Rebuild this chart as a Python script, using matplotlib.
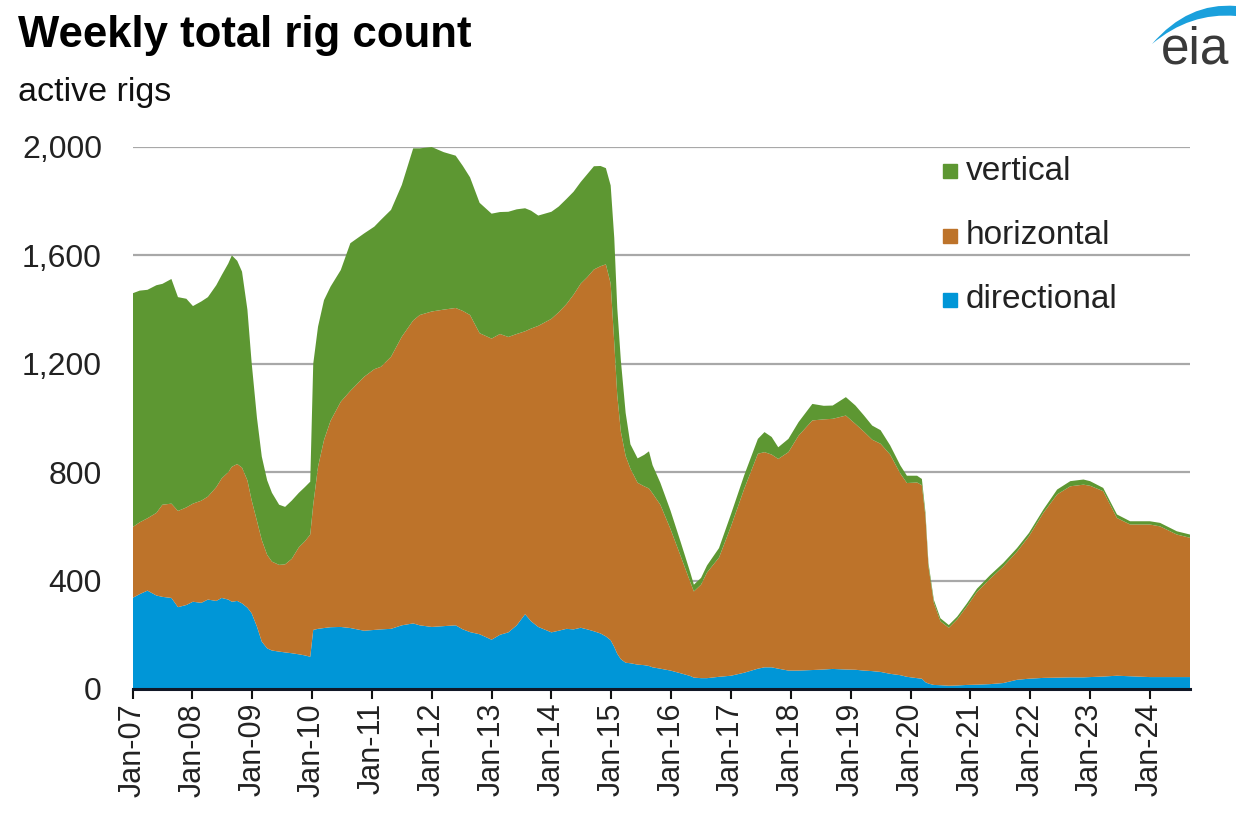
import matplotlib
matplotlib.use('Agg')
from matplotlib import pyplot as plt
from matplotlib.patches import Rectangle, PathPatch
from matplotlib.path import Path

# time in decimal years
t = [2007.00, 2007.12, 2007.25, 2007.40, 2007.50, 2007.65, 2007.76, 2007.90,
     2008.01, 2008.15, 2008.26, 2008.40, 2008.49, 2008.60, 2008.66, 2008.75,
     2008.83, 2008.92, 2008.99, 2009.08, 2009.16, 2009.25, 2009.33, 2009.45,
     2009.55, 2009.66, 2009.78, 2009.88, 2009.97, 2010.02, 2010.10, 2010.20,
     2010.31, 2010.48, 2010.64, 2010.87, 2011.04, 2011.15, 2011.32, 2011.50,
     2011.69, 2011.80, 2012.00, 2012.20, 2012.40, 2012.52, 2012.64, 2012.80,
     2013.00, 2013.14, 2013.28, 2013.42, 2013.56, 2013.66, 2013.78, 2014.00,
     2014.12, 2014.25, 2014.37, 2014.49, 2014.60, 2014.71, 2014.82, 2014.91,
     2014.99, 2015.05, 2015.10, 2015.16, 2015.24, 2015.32, 2015.44, 2015.55,
     2015.63, 2015.69, 2015.82, 2015.99, 2016.16, 2016.32, 2016.38, 2016.50,
     2016.60, 2016.80, 2017.00, 2017.22, 2017.45, 2017.56, 2017.68, 2017.79,
     2017.96, 2018.13, 2018.36, 2018.55, 2018.70, 2018.92, 2019.08, 2019.22,
     2019.36, 2019.50, 2019.66, 2019.83, 2019.94, 2020.11, 2020.19, 2020.25,
     2020.30, 2020.39, 2020.50, 2020.64, 2020.78, 2020.94, 2021.11, 2021.33,
     2021.55, 2021.78, 2021.98, 2022.22, 2022.45, 2022.67, 2022.89, 2023.00,
     2023.22, 2023.45, 2023.67, 2024.00, 2024.17, 2024.45, 2024.67]

directional = [336, 350, 363, 345, 340, 336, 302, 310,
               322, 318, 330, 325, 336, 330, 322, 325,
               316, 300, 280, 230, 175, 150, 142, 138,
               135, 132, 128, 124, 119, 218, 222, 225,
               228, 229, 225, 215, 218, 220, 222, 235,
               242, 235, 229, 232, 235, 220, 210, 202,
               182, 200, 209, 235, 276, 250, 229, 209,
               215, 222, 220, 226, 220, 213, 205, 194,
               180, 155, 130, 110, 97, 95, 90, 88,
               85, 80, 75, 68, 58, 48, 42, 40,
               40, 45, 49, 60, 75, 80, 80, 75,
               68, 68, 70, 72, 74, 72, 71, 68,
               66, 63, 56, 51, 45, 40, 38, 25,
               20, 15, 14, 12, 13, 15, 16, 18,
               22, 34, 38, 41, 42, 43, 43, 44,
               46, 49, 47, 44, 44, 44, 44]

horizontal = [261, 265, 267, 305, 340, 348, 355, 360,
              362, 377, 380, 420, 441, 470, 498, 505,
              501, 470, 417, 390, 375, 345, 328, 320,
              325, 348, 395, 421, 451, 462, 598, 694,
              762, 831, 875, 937, 962, 969, 1004, 1065,
              1118, 1145, 1164, 1168, 1171, 1175, 1170, 1111,
              1111, 1110, 1090, 1075, 1044, 1080, 1111, 1157,
              1175, 1198, 1235, 1270, 1300, 1335, 1355, 1373,
              1316, 1122, 954, 840, 763, 718, 671, 660,
              655, 642, 605, 522, 432, 347, 318, 345,
              390, 440, 551, 678, 793, 794, 785, 774,
              806, 867, 921, 923, 923, 937, 907, 882,
              854, 842, 809, 744, 715, 722, 714, 611,
              432, 303, 236, 214, 244, 289, 342, 389,
              430, 473, 526, 609, 676, 705, 711, 706,
              684, 582, 560, 563, 556, 526, 514]

vertical = [863, 855, 843, 840, 815, 829, 789, 770,
            729, 735, 736, 745, 750, 770, 780, 750,
            723, 630, 509, 380, 308, 275, 254, 222,
            212, 215, 201, 200, 195, 520, 517, 516,
            495, 486, 545, 529, 526, 542, 542, 560,
            635, 615, 607, 581, 562, 535, 508, 481,
            461, 450, 462, 460, 454, 435, 407, 395,
            390, 388, 380, 375, 380, 381, 370, 355,
            362, 387, 322, 263, 159, 90, 90, 116,
            137, 104, 81, 68, 52, 35, 25, 25,
            26, 35, 45, 50, 55, 74, 65, 43,
            49, 50, 61, 50, 49, 68, 68, 60,
            52, 50, 34, 30, 27, 25, 23, 15,
            13, 11, 11, 10, 10, 11, 12, 13,
            13, 13, 12, 12, 18, 19, 19, 17,
            12, 13, 12, 12, 13, 12, 12]

series_names = ['directional', 'horizontal', 'vertical']
series_colors = ['#0096d7', '#bd732a', '#5d9732']

tick_years = [2007, 2008, 2009, 2010, 2011, 2012, 2013, 2014, 2015,
              2016, 2017, 2018, 2019, 2020, 2021, 2022, 2023, 2024]
tick_labels = ['Jan-07', 'Jan-08', 'Jan-09', 'Jan-10', 'Jan-11', 'Jan-12',
               'Jan-13', 'Jan-14', 'Jan-15', 'Jan-16', 'Jan-17', 'Jan-18',
               'Jan-19', 'Jan-20', 'Jan-21', 'Jan-22', 'Jan-23', 'Jan-24']
y_ticks = [0, 400, 800, 1200, 1600, 2000]

plt.rcParams['font.family'] = ['Liberation Sans', 'DejaVu Sans']

W, H = 1236, 818
fig = plt.figure(figsize=(W / 100, H / 100), dpi=100)

def fx(px):
    return px / W

def fy(py):
    return 1 - py / H

ax_left, ax_right, ax_top, ax_bottom = 132.5, 1190, 147, 689
ax = fig.add_axes([fx(ax_left), fy(ax_bottom), fx(ax_right - ax_left), (ax_bottom - ax_top) / H])

ax.stackplot(t, directional, horizontal, vertical, colors=series_colors,
             labels=series_names, linewidth=0, zorder=2)

ax.set_xlim(2007.0, 2024.67)
ax.set_ylim(0, 2000)
ax.set_yticks(y_ticks)
ax.set_yticklabels(['{:,}'.format(v) for v in y_ticks])
ax.set_xticks(tick_years)
ax.set_xticklabels(tick_labels, rotation=90)

for v in y_ticks[1:]:
    ax.axhline(v, color='#a8a8a8', lw=1.6, zorder=1)

for s in ['top', 'right', 'left']:
    ax.spines[s].set_visible(False)
ax.spines['bottom'].set_color('#111827')
ax.spines['bottom'].set_linewidth(2.2)
ax.spines['bottom'].set_zorder(3)

ax.tick_params(axis='y', length=0, pad=22, labelsize=23, labelcolor='#222222')
ax.tick_params(axis='x', length=7, width=1.5, color='#111111', pad=3,
               labelsize=22, labelcolor='#222222')

# title block
fig.text(fx(18), fy(35), 'Weekly total rig count', fontsize=31.5, fontweight='bold',
         va='center', ha='left', color='#000000')
fig.text(fx(18), fy(92), 'active rigs', fontsize=24.5, va='center', ha='left', color='#111111')

# legend drawn by hand, top to bottom
legend_rows = [('vertical', '#5d9732', 171), ('horizontal', '#bd732a', 236), ('directional', '#0096d7', 300)]
for name, col, py in legend_rows:
    fig.patches.append(Rectangle((fx(943), fy(py + 7)), fx(14), 14 / H, color=col,
                                 transform=fig.transFigure, figure=fig))
    fig.text(fx(966), fy(py), name, fontsize=24, va='center', ha='left', color='#222222')

# eia logo
fig.text(fx(1229), fy(50), 'eia', fontsize=37, va='center', ha='right', color='#3a3a3a')
verts = [(fx(1152), fy(44)), (fx(1188), fy(2)), (fx(1236), fy(6)),
         (fx(1236), fy(16)), (fx(1190), fy(12)), (fx(1152), fy(44)), (fx(1152), fy(44))]
codes = [Path.MOVETO, Path.CURVE3, Path.CURVE3, Path.LINETO, Path.CURVE3, Path.CURVE3, Path.CLOSEPOLY]
fig.patches.append(PathPatch(Path(verts, codes), facecolor='#1aa0dc', edgecolor='none',
                             transform=fig.transFigure, figure=fig))

fig.savefig('out.png', dpi=100)
